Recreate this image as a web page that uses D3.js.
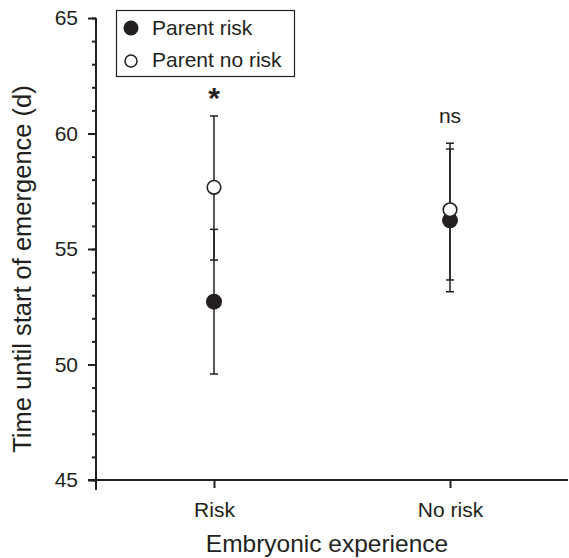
<!DOCTYPE html>
<html lang="en">
<head>
    <meta charset="UTF-8">
    <title>Time until start of emergence</title>
    <script src="https://d3js.org/d3.v7.min.js"></script>
    <style>
        body { margin: 0; background: #fff; }
        svg { font-family: "Liberation Sans", Arial, sans-serif; }
        .axis path,
        .axis line {
            fill: none;
            stroke: #231f20;
            stroke-width: 2px;
        }
        .axis text {
            font-size: 21px;
            fill: #231f20;
        }
        .err {
            stroke: #231f20;
            stroke-width: 1.5px;
        }
    </style>
</head>
<body>
<svg width="569" height="558"></svg>
<script>
    // Categories on the x axis
    const categories = ["Risk", "No risk"];

    // Series: parent risk (filled) and parent no risk (open)
    const parentRiskMean = [52.72, 56.24];
    const parentRiskLow  = [49.59, 53.15];
    const parentRiskHigh = [55.85, 59.33];

    const parentNoRiskMean = [57.67, 56.7];
    const parentNoRiskLow  = [54.52, 53.66];
    const parentNoRiskHigh = [60.76, 59.58];

    // Significance labels above each group
    const sigLabels = ["*", "ns"];

    const yTicks = [45, 50, 55, 60, 65];

    const svg = d3.select("svg");

    // Scales (pixel frame of the plot)
    const x = d3.scalePoint().domain(categories).range([96, 568]).padding(0.5);
    const y = d3.scaleLinear().domain([45, 65]).range([480, 18]);

    // Minor ticks on y, every unit
    svg.append("g")
        .attr("class", "axis")
        .attr("transform", "translate(96,0)")
        .call(d3.axisLeft(y).tickValues(d3.range(45, 66, 1)).tickSize(4).tickFormat(""))
        .call(g => g.select(".domain").remove());

    // Y axis with major ticks
    const yAxis = svg.append("g")
        .attr("class", "axis")
        .attr("transform", "translate(96,0)")
        .call(d3.axisLeft(y).tickValues(yTicks).tickSize(8).tickSizeOuter(0).tickPadding(10));
    // extend the axis line below the x axis
    yAxis.select(".domain").attr("d", "M0," + y(65) + "V" + (y(45) + 10));

    // X axis
    const xAxis = svg.append("g")
        .attr("class", "axis")
        .attr("transform", "translate(0," + y(45) + ")")
        .call(d3.axisBottom(x).tickSize(8).tickSizeOuter(0).tickPadding(14));
    xAxis.select(".domain").attr("d", "M88,0H568");

    // Error bars for each series
    function drawSeries(mean, low, high) {
        const rows = categories.map((c, i) => ({c: c, m: mean[i], lo: low[i], hi: high[i]}));
        const g = svg.append("g");
        g.selectAll(".v").data(rows).join("line")
            .attr("class", "err")
            .attr("x1", d => x(d.c)).attr("x2", d => x(d.c))
            .attr("y1", d => y(d.lo)).attr("y2", d => y(d.hi));
        g.selectAll(".capLo").data(rows).join("line")
            .attr("class", "err")
            .attr("x1", d => x(d.c) - 4).attr("x2", d => x(d.c) + 4)
            .attr("y1", d => y(d.lo)).attr("y2", d => y(d.lo));
        g.selectAll(".capHi").data(rows).join("line")
            .attr("class", "err")
            .attr("x1", d => x(d.c) - 4).attr("x2", d => x(d.c) + 4)
            .attr("y1", d => y(d.hi)).attr("y2", d => y(d.hi));
        return g;
    }

    const gRisk = drawSeries(parentRiskMean, parentRiskLow, parentRiskHigh);
    const gNoRisk = drawSeries(parentNoRiskMean, parentNoRiskLow, parentNoRiskHigh);

    gRisk.selectAll("circle").data(categories).join("circle")
        .attr("cx", d => x(d))
        .attr("cy", (d, i) => y(parentRiskMean[i]))
        .attr("r", 8)
        .attr("fill", "#231f20");

    gNoRisk.selectAll("circle").data(categories).join("circle")
        .attr("cx", d => x(d))
        .attr("cy", (d, i) => y(parentNoRiskMean[i]))
        .attr("r", 6.8)
        .attr("fill", "#fff")
        .attr("stroke", "#231f20")
        .attr("stroke-width", 1.6);

    // Significance labels
    svg.append("text")
        .attr("x", x(categories[0]))
        .attr("y", 108)
        .attr("text-anchor", "middle")
        .style("font-size", "30px")
        .style("font-weight", "bold")
        .attr("fill", "#231f20")
        .text(sigLabels[0]);
    svg.append("text")
        .attr("x", x(categories[1]))
        .attr("y", 123)
        .attr("text-anchor", "middle")
        .style("font-size", "21px")
        .attr("fill", "#231f20")
        .text(sigLabels[1]);

    // Axis titles
    svg.append("text")
        .attr("x", 327)
        .attr("y", 552)
        .attr("text-anchor", "middle")
        .style("font-size", "24.5px")
        .attr("fill", "#231f20")
        .text("Embryonic experience");

    svg.append("text")
        .attr("transform", "translate(31,269) rotate(-90)")
        .attr("text-anchor", "middle")
        .style("font-size", "25.5px")
        .attr("fill", "#231f20")
        .text("Time until start of emergence (d)");

    // Legend
    const legend = svg.append("g");
    legend.append("rect")
        .attr("x", 116.5).attr("y", 10.5)
        .attr("width", 178).attr("height", 66)
        .attr("fill", "#fff")
        .attr("stroke", "#231f20")
        .attr("stroke-width", 1.2);
    legend.append("circle")
        .attr("cx", 131).attr("cy", 28).attr("r", 7.5)
        .attr("fill", "#231f20");
    legend.append("circle")
        .attr("cx", 131).attr("cy", 61).attr("r", 6)
        .attr("fill", "#fff").attr("stroke", "#231f20").attr("stroke-width", 1.5);
    legend.append("text")
        .attr("x", 152).attr("y", 35)
        .style("font-size", "21px").attr("fill", "#231f20")
        .text("Parent risk");
    legend.append("text")
        .attr("x", 152).attr("y", 67)
        .style("font-size", "21px").attr("fill", "#231f20")
        .text("Parent no risk");
</script>
</body>
</html>
